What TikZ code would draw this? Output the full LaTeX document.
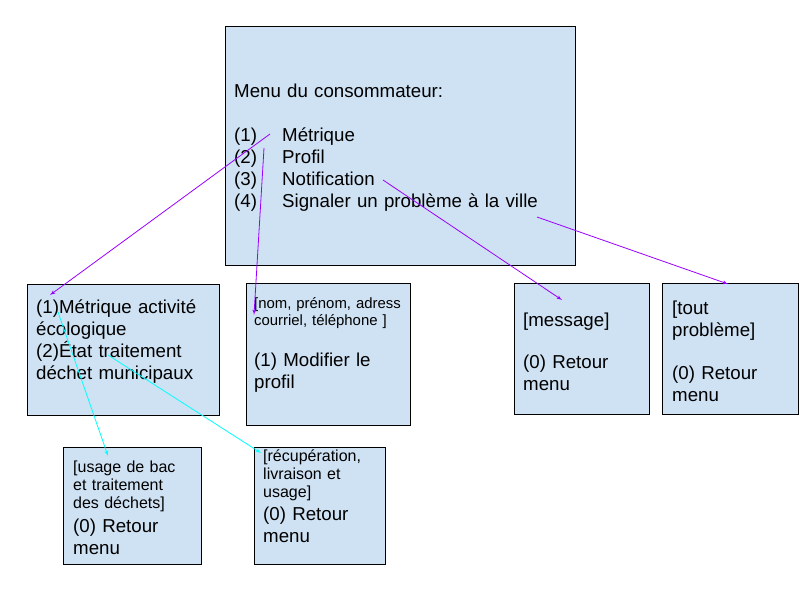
\documentclass[tikz,border=0pt]{standalone}
\usepackage{fontspec}
\setmainfont{Liberation Sans}
\usepackage{xcolor}
\usepackage{tikz}
\usetikzlibrary{shapes, arrows, positioning, calc}

\definecolor{boxblue}{HTML}{CFE2F3}
\definecolor{violet1}{HTML}{9900FF}
\definecolor{cyan1}{HTML}{00FFFF}
\newcommand{\bigtxt}{\fontsize{18.7pt}{22pt}\selectfont}
\newcommand{\smalltxt}{\fontsize{14.9pt}{17.7pt}\selectfont}
\newcommand{\midtxt}{\fontsize{16pt}{18.2pt}\selectfont}

\begin{document}
\begin{tikzpicture}[x=1pt, y=-1pt]
    \tikzstyle{block} = [rectangle, draw, fill=boxblue, anchor=north west, inner sep=0pt, line width=0.8pt]
    \tikzstyle{txt} = [anchor=base west, inner sep=0pt, align=left, text width=330pt, font=\bigtxt]
    \tikzstyle{line} = [draw, -latex', line width=0.8pt, violet1]
    \tikzstyle{subline} = [line, cyan1]

    \useasboundingbox (0,0) rectangle (800,600);

    % boxes
    \node [block, minimum width=350pt, minimum height=239pt] (menu) at (225,26) {};
    \node [block, minimum width=192pt, minimum height=131pt] (metric) at (27,284) {};
    \node [block, minimum width=164pt, minimum height=142pt] (profil) at (246,283) {};
    \node [block, minimum width=135pt, minimum height=131pt] (notif) at (514,283) {};
    \node [block, minimum width=136pt, minimum height=131pt] (signal) at (662,283) {};
    \node [block, minimum width=138pt, minimum height=117pt] (bac) at (63,447) {};
    \node [block, minimum width=131pt, minimum height=117pt] (recup) at (254,447) {};

    % texts
    \node [txt] (menutxt) at (234,97) {Menu du consommateur:\\[22pt]
        \makebox[48pt][l]{(1)}Métrique\\
        \makebox[48pt][l]{(2)}Profil\\
        \makebox[48pt][l]{(3)}Notification\\
        \makebox[48pt][l]{(4)}Signaler un problème à la ville};
    \node [txt] (metrictxt) at (36,313) {(1)Métrique activité\\ écologique\\ (2)État traitement\\ déchet municipaux};
    \node [txt, font=\smalltxt] (profiltxt) at (254,308) {[nom, prénom, adress\\ courriel, téléphone ]};
    \node [txt] (profiltxt2) at (254,366) {(1) Modifier le\\ profil};
    \node [txt] (notiftxt) at (523,326) {[message]\\[20pt] (0) Retour\\ menu};
    \node [txt] (signaltxt) at (672,314) {[tout\\ problème]\\[21pt] (0) Retour\\ menu};
    \node [txt, font=\midtxt] (bactxt) at (73,472) {[usage de bac\\ et traitement\\ des déchets]};
    \node [txt] (bactxt2) at (73,532) {(0) Retour\\ menu};
    \node [txt, font=\midtxt] (recuptxt) at (263,461) {[récupération,\\ livraison et\\ usage]};
    \node [txt] (recuptxt2) at (263,520) {(0) Retour\\ menu};

    % arrow ends
    \coordinate (pMetric) at ($(menu.north west)+(45,108)$);
    \coordinate (pProfil) at ($(menu.north west)+(39,122)$);
    \coordinate (pNotif) at ($(menu.north west)+(158,154)$);
    \coordinate (pSignal) at ($(menu.north west)+(312,191)$);
    \coordinate (pBac) at ($(metric.north west)+(31,28)$);
    \coordinate (pRecup) at ($(metric.north west)+(81,71)$);

    \path [line] (pMetric) -- ($(metric.north west)+(23,11)$);
    \path [line] (pProfil) -- ($(profil.north west)+(8,32)$);
    \path [line] (pNotif) -- ($(notif.north west)+(48,17)$);
    \path [line] (pSignal) -- ($(signal.north west)+(66,1)$);
    \path [subline] (pBac) -- ($(bac.north west)+(45,9)$);
    \path [subline] (pRecup) -- ($(recup.north west)+(7,6)$);
\end{tikzpicture}
\end{document}
